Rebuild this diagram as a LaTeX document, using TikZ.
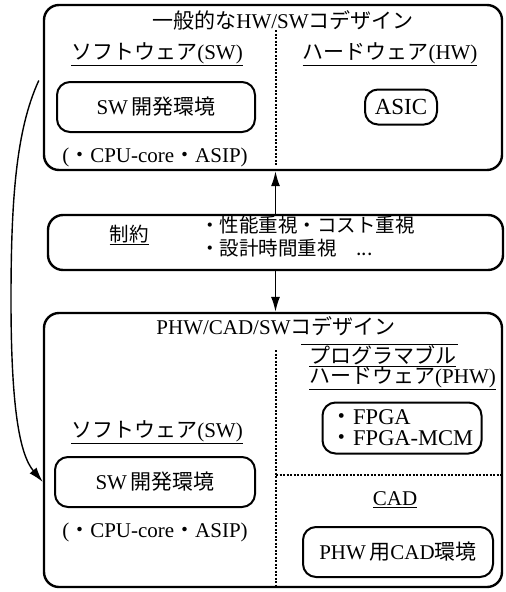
\documentclass[tikz,border=0pt]{standalone}
\usepackage{fontspec}
\setmainfont{Liberation Serif}
\newfontfamily\jp{Noto Sans CJK JP}
\usetikzlibrary{arrows.meta}
\begin{document}
\begin{tikzpicture}[x=1pt,y=-1pt,
  font=\fontsize{21}{22}\selectfont,
  bigbox/.style={draw, line width=2.4pt, rounded corners=15pt, inner sep=0pt},
  smallbox/.style={draw, line width=2pt, rounded corners=13pt, inner sep=2pt},
  lbl/.style={inner sep=0pt},
  jplbl/.style={inner sep=0pt, font=\fontsize{19.5}{23}\selectfont\jp},
  dots/.style={line width=2pt, dash pattern=on 2pt off 1.5pt},
  arr/.style={line width=1.4pt, -{Latex[length=15pt,width=9pt]}}]
\useasboundingbox (0,0) rectangle (506,592);
% top box
\node[bigbox, minimum width=458pt, minimum height=165pt] (top) at (273,87.5) {};
\node[lbl] (t1) at (283,20) {{\jp 一般的な}HW/SW{\jp コデザイン}};
\node[lbl] (swl1) at (157,54) {\underline{{\jp ソフトウェア}(SW)}};
\node[lbl] (hwl) at (390,54) {\underline{{\jp ハードウェア}(HW)}};
\node[smallbox, minimum width=198pt, minimum height=50pt] (sw1) at (156,107) {SW\,{\jp 開発環境}};
\node[smallbox, minimum width=72pt, minimum height=35pt, font=\fontsize{23}{24}\selectfont] (asic) at (401,107) {ASIC};
\node[lbl] (cpu1) at (155,157) {({\jp ・}CPU-core{\jp ・}ASIP)};
\draw[dots] (276,30) -- (276,166);
% constraint box
\node[bigbox, minimum width=455pt, minimum height=55pt] (cons) at (275.5,242.5) {};
\node[jplbl] (seiyaku) at (129,235) {\underline{制約}};
\node[jplbl, anchor=west] (c1) at (200,225) {・性能重視・コスト重視};
\node[jplbl, anchor=west] (c2) at (200,248) {・設計時間重視\quad ...};
% bottom box
\node[bigbox, minimum width=458pt, minimum height=274pt] (bot) at (273,450) {};
\node[lbl] (t2) at (276,326) {PHW/CAD/SW{\jp コデザイン}};
\draw[line width=1pt] (301,344) -- (458,344);
\node[lbl, anchor=west] (pg1) at (309,356) {\underline{{\jp プログラマブル}}};
\node[lbl, anchor=west] (pg2) at (309,378) {\underline{{\jp ハードウェア}(PHW)}};
\node[smallbox, minimum width=159pt, minimum height=51pt, align=left, font=\fontsize{22.5}{21}\selectfont] (fpga) at (402,428) {{\jp ・}FPGA\\{\jp ・}FPGA-MCM};
\draw[dots] (276,350) -- (276,585);
\draw[dots] (276,475) -- (501,475);
\node[lbl] (cad) at (395,500) {\underline{CAD}};
\node[smallbox, minimum width=190pt, minimum height=50pt] (phwcad) at (398,552) {PHW\,{\jp 用}CAD{\jp 環境}};
\node[lbl] (swl2) at (157,432) {\underline{{\jp ソフトウェア}(SW)}};
\node[smallbox, minimum width=200pt, minimum height=50pt] (sw2) at (155,482) {SW\,{\jp 開発環境}};
\node[lbl] (cpu2) at (155,532) {({\jp ・}CPU-core{\jp ・}ASIP)};
% connectors
\draw[arr] (cons.north) -- (cons.north |- top.south);
\draw[arr] (cons.south) -- (cons.south |- bot.north);
\coordinate (cs) at ([shift={(-4pt,7pt)}]top.west);
\coordinate (ce) at (bot.west |- sw2.center);
\draw[arr] (cs) .. controls (16,130) and (11,200) .. (11,300) .. controls (11,410) and (20,455) .. (ce);
\end{tikzpicture}
\end{document}
